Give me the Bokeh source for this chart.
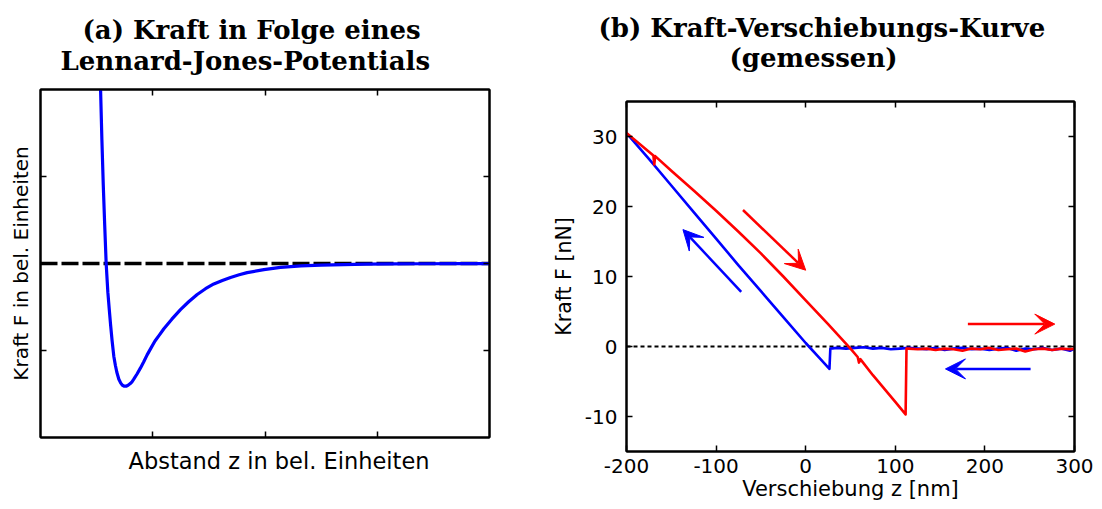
from bokeh.plotting import figure
from bokeh.models import Range1d, FixedTicker, LinearAxis, Title, Arrow, VeeHead, Span
from bokeh.layouts import row
from bokeh.embed import file_html
from bokeh.resources import INLINE

# ---- panel (a): Lennard-Jones force, arbitrary units ----
lj_z = [0.515, 0.525, 0.535, 0.547, 0.559, 0.572, 0.585, 0.600, 0.612, 0.624,
        0.638, 0.653, 0.667, 0.680, 0.698, 0.715, 0.730, 0.747, 0.763, 0.780,
        0.800, 0.815, 0.831, 0.860, 0.891, 0.920, 0.950, 0.985, 1.020, 1.060,
        1.099, 1.170, 1.247, 1.320, 1.396, 1.470, 1.544, 1.620, 1.693, 1.770,
        1.841, 1.990, 2.138, 2.320, 2.500, 2.700, 2.900, 3.150, 3.400, 3.700, 4.000]
lj_f = [2.40, 2.20, 2.01, 1.42, 0.91, 0.44, 0.0, -0.33, -0.52, -0.70,
        -0.89, -1.065, -1.17, -1.25, -1.33, -1.375, -1.40, -1.41, -1.41, -1.40,
        -1.38, -1.36, -1.33, -1.27, -1.20, -1.13, -1.05, -0.97, -0.89, -0.82,
        -0.75, -0.64, -0.53, -0.44, -0.356, -0.29, -0.235, -0.195, -0.16, -0.13,
        -0.105, -0.07, -0.045, -0.028, -0.018, -0.012, -0.008, -0.005, -0.003, -0.002, -0.001]

# ---- panel (b): measured force-distance curve ----
approach_z = [-200, -185, -170, -169, -168, -150, -125, -100, -75, -50, -25, 0, 25,
              50, 58, 59.5, 61, 75, 100, 111.5, 112.5, 115, 125, 135, 145, 155, 165,
              175, 185, 195, 205, 215, 225, 235, 245, 255, 265, 275, 285, 295, 300]
approach_f = [30.5, 28.9, 27.3, 26.0, 27.2, 25.1, 22.3, 19.4, 16.4, 13.3, 10.0, 6.6, 3.2,
              -0.3, -1.5, -2.3, -1.8, -4.1, -7.9, -9.7, -0.3, -0.3, -0.4, -0.3, -0.5, -0.3, -0.4,
              -0.6, -0.3, -0.4, -0.2, -0.5, -0.4, -0.3, -0.7, -0.4, -0.3, -0.5, -0.3, -0.4, -0.3]

retract_z = [-200, -175, -150, -125, -100, -75, -50, -25, 0, 15, 26.5, 27.5, 35, 45,
             55, 65, 75, 85, 95, 105, 115, 125, 135, 145, 155, 165, 175, 185, 195,
             205, 215, 225, 235, 245, 255, 265, 275, 285, 295, 300]
retract_f = [30.5, 26.8, 23.0, 19.2, 15.4, 11.6, 7.9, 4.2, 0.5, -1.6, -3.2, -0.3, -0.2, -0.3,
             -0.2, -0.1, -0.3, -0.2, -0.4, -0.3, -0.2, -0.3, -0.4, -0.2, -0.5, -0.3, -0.2,
             -0.4, -0.3, -0.5, -0.3, -0.2, -0.6, -0.3, -0.4, -0.2, -0.5, -0.3, -0.6, -0.3]

# direction arrows: (z_start, f_start, z_end, f_end)
arrow_approach_diag = (-70, 19.5, 0, 10.9)
arrow_retract_diag = (-72, 7.8, -137, 16.7)
arrow_approach_flat = (181, 3.2, 278, 3.2)
arrow_retract_flat = (251, -3.2, 156, -3.2)

x_ticks_b = [-200, -100, 0, 100, 200, 300]
y_ticks_b = [-10, 0, 10, 20, 30]

BLUE = "#0000ff"
RED = "#ff0000"
SANS = "DejaVu Sans"
SERIF = "DejaVu Serif"


def style_axis(ax, ticks, show_labels, label_size="18px"):
    ax.ticker = FixedTicker(ticks=ticks)
    ax.axis_line_color = "black"
    ax.axis_line_width = 2
    ax.major_tick_in = 6
    ax.major_tick_out = 0
    ax.major_tick_line_width = 1.5
    ax.minor_tick_line_color = None
    if show_labels:
        ax.major_label_text_font = SANS
        ax.major_label_text_font_size = "20px"
        ax.major_label_text_color = "black"
        # plain hyphen for negative numbers
        ax.major_label_overrides = {t: str(t) for t in ticks}
    else:
        ax.major_label_text_font_size = "1px"
        ax.major_label_text_color = None
        ax.major_label_standoff = 0
    ax.axis_label_text_font = SANS
    ax.axis_label_text_font_size = label_size
    ax.axis_label_text_font_style = "normal"
    ax.axis_label_text_color = "black"


def add_title(p, lines):
    # the last title added sits outermost, so add lines bottom-up
    for txt, off, stand in reversed(lines):
        p.add_layout(Title(text=txt, align="left", offset=off,
                           text_font=SERIF, text_font_style="bold",
                           text_font_size="26px", text_color="black",
                           standoff=stand), "above")


# ---------------- panel (a) ----------------
pa = figure(width=540, height=509, output_backend="svg", toolbar_location=None,
            x_range=Range1d(0, 4), y_range=Range1d(-2, 2),
            min_border_left=40, min_border_right=51, min_border_bottom=72,
            min_border_top=89, frame_align=False)
pa.grid.visible = False
pa.outline_line_color = "black"
pa.outline_line_width = 2
style_axis(pa.xaxis[0], [1, 2, 3], False)
style_axis(pa.yaxis[0], [-1, 0, 1], False, "20px")
pa.yaxis.axis_label = "Kraft F in bel. Einheiten"
pa.yaxis.axis_label_standoff = 8
# x label placed as a caption below the frame, slightly right of centre
pa.add_layout(Title(text="Abstand z in bel. Einheiten", align="left", offset=88,
                    text_font=SANS, text_font_style="normal",
                    text_font_size="22.5px", text_color="black",
                    standoff=16), "below")
top_a = LinearAxis()
style_axis(top_a, [1, 2, 3], False)
right_a = LinearAxis()
style_axis(right_a, [-1, 0, 1], False)
pa.add_layout(top_a, "above")
pa.add_layout(right_a, "right")
add_title(pa, [("(a) Kraft in Folge eines", 42, -29),
               ("Lennard-Jones-Potentials", 20, 27)])

pa.add_layout(Span(location=0, dimension="width", line_color="black",
                   line_width=3.5, line_dash="17 4", level="underlay"))
pa.line(lj_z, lj_f, line_color=BLUE, line_width=3.2, line_join="round")

# ---------------- panel (b) ----------------
pb = figure(width=562, height=509, output_backend="svg", toolbar_location=None,
            x_range=Range1d(-200, 300), y_range=Range1d(-15, 35),
            min_border_left=86, min_border_right=28, min_border_bottom=58,
            min_border_top=101, frame_align=False)
pb.grid.visible = False
pb.outline_line_color = "black"
pb.outline_line_width = 2
style_axis(pb.xaxis[0], x_ticks_b, True, "21px")
style_axis(pb.yaxis[0], y_ticks_b, True, "20.5px")
pb.xaxis.axis_label = "Verschiebung z [nm]"
pb.yaxis.axis_label = "Kraft F [nN]"
pb.xaxis.major_label_standoff = 7
pb.yaxis.major_label_standoff = 9
pb.xaxis.axis_label_standoff = 1
pb.yaxis.axis_label_standoff = 6
top_b = LinearAxis()
style_axis(top_b, x_ticks_b, False)
right_b = LinearAxis()
style_axis(right_b, y_ticks_b, False)
pb.add_layout(top_b, "above")
pb.add_layout(right_b, "right")
add_title(pb, [("(b) Kraft-Verschiebungs-Kurve", -28, -63),
               ("(gemessen)", 103, 58)])

pb.add_layout(Span(location=0, dimension="width", line_color="black",
                   line_width=2, line_dash="4 3", level="underlay"))
pb.line(retract_z, retract_f, line_color=BLUE, line_width=2.6, line_join="round")
pb.line(approach_z, approach_f, line_color=RED, line_width=2.6, line_join="round")

for (x0, y0, x1, y1), col in [(arrow_approach_diag, RED), (arrow_retract_diag, BLUE),
                              (arrow_approach_flat, RED), (arrow_retract_flat, BLUE)]:
    pb.add_layout(Arrow(end=VeeHead(size=20, fill_color=col, line_color=col, line_width=1),
                        x_start=x0, y_start=y0, x_end=x1, y_end=y1,
                        line_color=col, line_width=2.5))

layout = row(pa, pb)
open("out.html", "w").write(file_html(layout, INLINE))
